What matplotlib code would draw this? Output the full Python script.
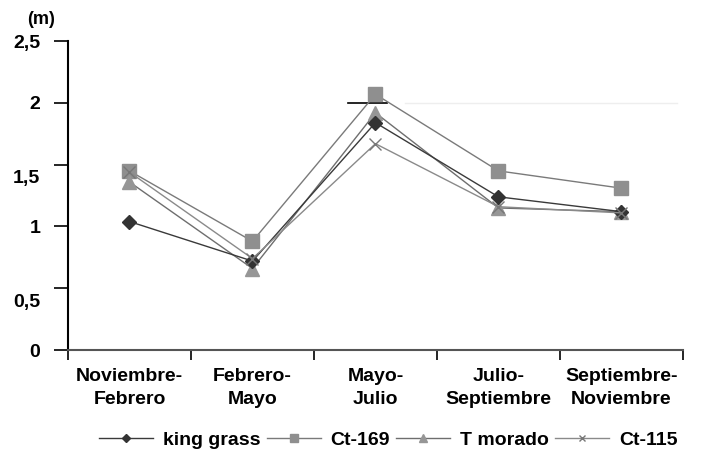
import matplotlib
matplotlib.use("Agg")
import matplotlib.pyplot as plt
from matplotlib.ticker import FixedLocator
from matplotlib.transforms import ScaledTranslation

plt.rcParams['font.family'] = ['Liberation Sans', 'DejaVu Sans']

categories = ["Noviembre-\nFebrero", "Febrero-\nMayo", "Mayo-\nJulio",
              "Julio-\nSeptiembre", "Septiembre-\nNoviembre"]
king_grass = [1.04, 0.72, 1.84, 1.24, 1.12]
ct_169 = [1.45, 0.88, 2.07, 1.45, 1.31]
t_morado = [1.36, 0.66, 1.92, 1.15, 1.12]
ct_115 = [1.44, 0.74, 1.67, 1.16, 1.11]
y_ticks = [0, 0.5, 1, 1.5, 2, 2.5]
y_labels = ["0", "0,5", "1", "1,5", "2", "2,5"]

fig = plt.figure(figsize=(7.06, 4.57), dpi=100)
ax = fig.add_axes([0.0963, 0.234, 0.871, 0.676])

x = list(range(len(categories)))
ax.plot(x, king_grass, color="#3a3a3a", lw=1.0, marker="D", ms=7,
        mfc="#333333", mec="#333333", label="king grass", zorder=4)
ax.plot(x, ct_169, color="#7a7a7a", lw=1.0, marker="s", ms=10,
        mfc="#8f8f8f", mec="#8f8f8f", label="Ct-169", zorder=3)
ax.plot(x, t_morado, color="#6e6e6e", lw=1.0, marker="^", ms=10,
        mfc="#969696", mec="#969696", label="T morado", zorder=3)
ax.plot(x, ct_115, color="#8a8a8a", lw=1.0, marker="x", ms=8, mew=1.0,
        mec="#777777", label="Ct-115", zorder=5)

# faint gridline remnants
ax.axhline(2, xmin=0.548, xmax=0.99, color="#eeeeee", lw=1, zorder=0)
ax.axhline(2, xmin=0.455, xmax=0.519, color="black", lw=1.2, zorder=2)

ax.set_xlim(-0.5, 4.5)
ax.set_ylim(0, 2.5)
ax.spines['top'].set_visible(False)
ax.spines['right'].set_visible(False)
ax.spines['left'].set_linewidth(1.5)
ax.spines['bottom'].set_linewidth(1.5)
ax.spines['bottom'].set_color("#555555")

ax.set_yticks(y_ticks)
ax.set_yticklabels(y_labels, fontsize=14, fontweight="bold")
ax.tick_params(axis='y', direction='out', length=10, width=1.2, pad=10)
for i, t in enumerate(ax.yaxis.get_major_ticks()):
    if y_ticks[i] in (0.5, 1, 1.5):
        t.tick1line.set_color("#f2f2f2")
for lab in ax.get_yticklabels():
    if lab.get_text() in ("1,5", "0,5"):
        lab.set_transform(lab.get_transform() + ScaledTranslation(0, -0.12, fig.dpi_scale_trans))

ax.set_xticks(x)
ax.set_xticklabels(categories, fontsize=14, fontweight="bold", linespacing=1.45)
ax.tick_params(axis='x', length=0, pad=13)
ax.xaxis.set_minor_locator(FixedLocator([-0.5, 0.5, 1.5, 2.5, 3.5, 4.5]))
ax.tick_params(axis='x', which='minor', direction='out', length=7, width=1.2)

fig.text(0.058, 0.958, "(m)", fontsize=13, fontweight="bold", ha="center", va="center")

fig.legend(loc="center", bbox_to_anchor=(0.55, 0.037), ncol=4, frameon=False,
           prop={'size': 14, 'weight': 'bold'}, handlelength=2.8,
           columnspacing=0.3, handletextpad=0.5, markerscale=0.6)

fig.savefig("out.png", dpi=100)
